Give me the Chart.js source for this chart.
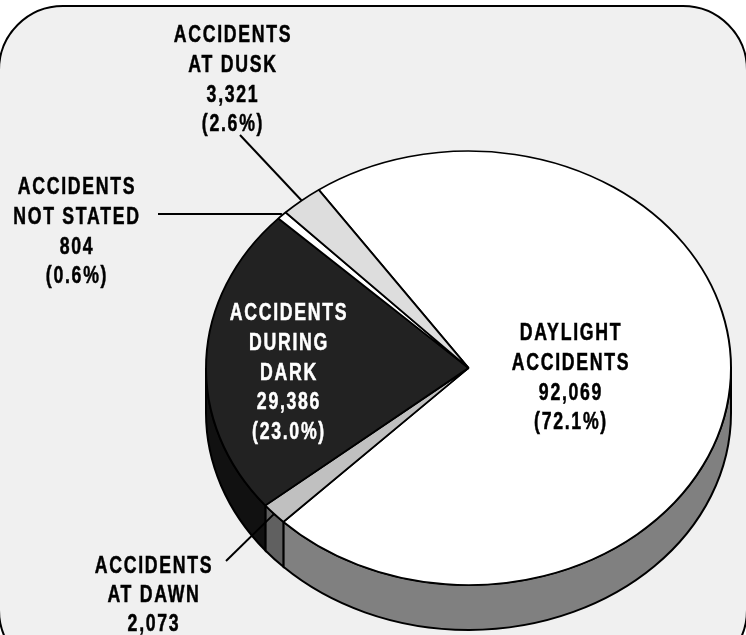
<!DOCTYPE html>
<html>
<head>
<meta charset="utf-8">
<script src="https://cdn.jsdelivr.net/npm/chart.js@4"></script>
<style>
  html, body { margin: 0; padding: 0; background: #fff; overflow: hidden; }
  #wrap { position: relative; width: 746px; height: 635px; overflow: hidden; }
  #frame { position: absolute; left: -2px; top: 5px; width: 750px; height: 670px; box-sizing: border-box;
    background: #f0f0f0; border: 2px solid #000; border-radius: 65px; }
  canvas { position: absolute; left: 0; top: 0; }
</style>
</head>
<body>
<div id="wrap">
  <div id="frame"></div>
  <canvas id="pie" width="746" height="635"></canvas>
</div>
<script>
// clockwise from the daylight slice
const categories = ['Daylight', 'At dawn', 'During dark', 'Not stated', 'At dusk'];
const accidents = [92069, 2073, 29386, 804, 3321];
const topColors = ['#ffffff', '#c0c0c0', '#222222', '#ffffff', '#dddddd'];
const sideColors = ['#808080', '#606060', '#111111', '#808080', '#6e6e6e'];

const daylightText = ['DAYLIGHT', 'ACCIDENTS', '92,069', '(72.1%)'];
const dawnText = ['ACCIDENTS', 'AT DAWN', '2,073'];
const darkText = ['ACCIDENTS', 'DURING', 'DARK', '29,386', '(23.0%)'];
const notStatedText = ['ACCIDENTS', 'NOT STATED', '804', '(0.6%)'];
const duskText = ['ACCIDENTS', 'AT DUSK', '3,321', '(2.6%)'];

// pie geometry on the page
const CX = 468.5, CY = 368, RX = 262.5, RY = 217, DEPTH = 45;

const labelBlocks = [
  { lines: daylightText, x: 571, y: 334, step: 29.7, color: '#000' },
  { lines: dawnText, x: 154, y: 567, step: 29, color: '#000' },
  { lines: darkText, x: 289, y: 314, step: 29.7, color: '#fff' },
  { lines: notStatedText, x: 77, y: 188, step: 29.7, color: '#000' },
  { lines: duskText, x: 233, y: 36, step: 29.7, color: '#000' }
];

// slice index -> where the leader line starts
const leaders = [
  { slice: 1, x: 226, y: 561 },
  { slice: 3, x: 158, y: 214 },
  { slice: 4, x: 240, y: 135 }
];

const rim = (a, dy = 0) => ({ x: CX + RX * Math.cos(a), y: CY + dy + RY * Math.sin(a) });

const tiltedPie = {
  id: 'tiltedPie',
  beforeDatasetsDraw(chart) {
    const ctx = chart.ctx;
    const arcs = chart.getDatasetMeta(0).data;
    const TWO_PI = Math.PI * 2;

    // side wall: only the part of each slice facing the viewer
    arcs.forEach((arc, i) => {
      let start = arc.startAngle, end = arc.endAngle;
      for (const shift of [0, TWO_PI, -TWO_PI]) {
        const a0 = Math.max(start + shift, 0);
        const a1 = Math.min(end + shift, Math.PI);
        if (a1 <= a0) continue;
        ctx.beginPath();
        ctx.ellipse(CX, CY, RX, RY, 0, a0, a1);
        ctx.ellipse(CX, CY + DEPTH, RX, RY, 0, a1, a0, true);
        ctx.closePath();
        ctx.fillStyle = sideColors[i];
        ctx.fill();
        ctx.lineWidth = 2;
        ctx.strokeStyle = '#000';
        ctx.stroke();
      }
    });

    const r = arcs[0].outerRadius;
    ctx.save();
    ctx.translate(CX, CY);
    ctx.scale(RX / r, RY / r);
    ctx.translate(-arcs[0].x, -arcs[0].y);
  },
  afterDatasetsDraw(chart) {
    const ctx = chart.ctx;
    const arcs = chart.getDatasetMeta(0).data;
    ctx.restore();

    ctx.strokeStyle = '#000';
    ctx.lineWidth = 2;
    leaders.forEach(l => {
      const arc = arcs[l.slice];
      const p = rim((arc.startAngle + arc.endAngle) / 2);
      ctx.beginPath();
      ctx.moveTo(l.x, l.y);
      ctx.lineTo(p.x, l.slice === 3 ? l.y : p.y);
      ctx.stroke();
    });

    // tall narrow lettering like the original
    ctx.font = 'bold 23px "Liberation Sans", Arial, sans-serif';
    ctx.letterSpacing = '2.2px';
    ctx.textAlign = 'center';
    ctx.textBaseline = 'middle';
    ctx.lineWidth = 0.5;
    labelBlocks.forEach(b => {
      ctx.fillStyle = b.color;
      ctx.strokeStyle = b.color;
      b.lines.forEach((line, i) => {
        ctx.save();
        ctx.translate(b.x, b.y + i * b.step);
        ctx.scale(0.77, 1);
        ctx.fillText(line, 0, 0);
        ctx.strokeText(line, 0, 0);
        ctx.restore();
      });
    });
  }
};

new Chart(document.getElementById('pie'), {
  type: 'pie',
  data: {
    labels: categories,
    datasets: [{
      data: accidents,
      backgroundColor: topColors,
      borderColor: '#000',
      borderWidth: 2,
      clip: false
    }]
  },
  options: {
    responsive: false,
    animation: false,
    rotation: -34.8,
    layout: { padding: { top: 50, bottom: 50 } },
    plugins: { legend: { display: false }, tooltip: { enabled: false } }
  },
  plugins: [tiltedPie]
});
</script>
</body>
</html>
